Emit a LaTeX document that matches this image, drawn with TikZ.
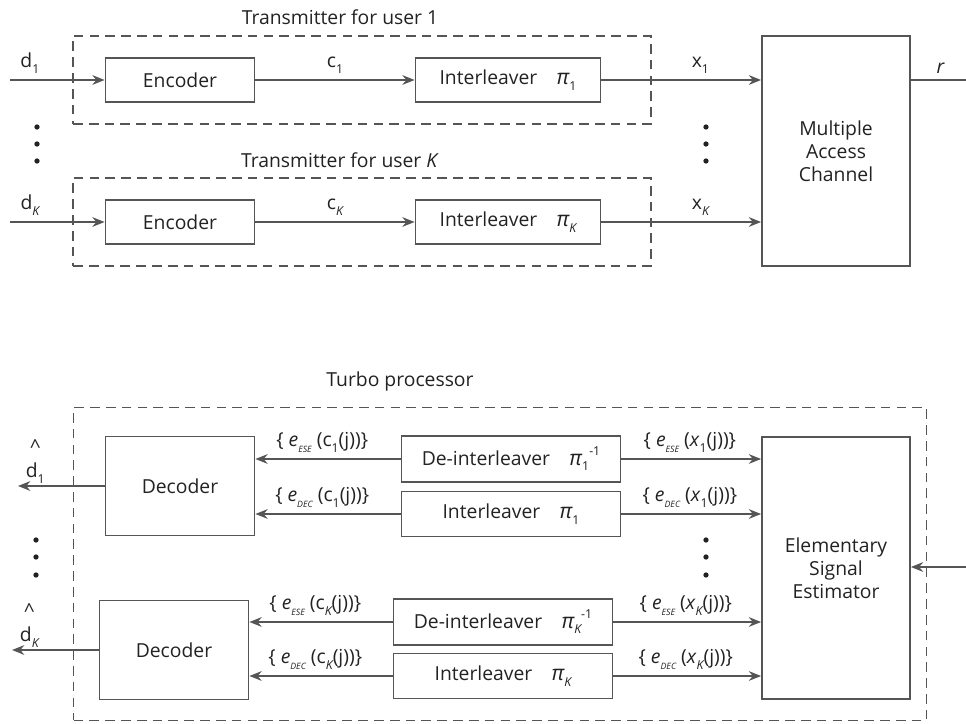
\documentclass[tikz,border=0pt]{standalone}
\usepackage{fontspec}
\setmainfont{Open Sans}
\usetikzlibrary{arrows.meta}
\definecolor{linegray}{HTML}{555555}
\definecolor{textgray}{HTML}{222222}
\newcommand{\lo}[1]{\raisebox{-0.55ex}{\scriptsize #1}}
\newcommand{\hi}[1]{\raisebox{0.9ex}{\scriptsize #1}}
\newcommand{\ppi}{{\large\itshape π}}
\newcommand{\ext}[3]{\{ \textit{e}\lo{\tiny\itshape #1}\ (#2\lo{#3}(j))\}}

\begin{document}
\begin{tikzpicture}[x=0.02cm, y=-0.02cm, font=\fontsize{11}{13}\selectfont, text=textgray,
  blockbox/.style={draw=linegray, line width=1pt, align=center, inner sep=0pt},
  groupbox/.style={draw=linegray, dash pattern=on 5.5pt off 3.5pt, line width=1pt, inner sep=0pt},
  flow/.style={draw=linegray, line width=1pt, -{Stealth[length=7pt,width=5.5pt]}},
  wire/.style={draw=linegray, line width=1pt}]
\useasboundingbox (0,0) rectangle (966,723);

% transmitters
\node[groupbox, minimum width=11.56cm, minimum height=1.76cm] (tx1) at (362,80) {};
\node (tx1title) at (340,17) {Transmitter for user 1};
\node[blockbox, minimum width=2.98cm, minimum height=0.88cm] (enc1) at (180,80) {Encoder};
\node[blockbox, minimum width=3.7cm, minimum height=0.88cm] (int1) at (508,80) {Interleaver\quad\ppi\lo{1}};

\node[groupbox, minimum width=11.56cm, minimum height=1.76cm] (txK) at (362,222) {};
\node (txKtitle) at (340,160) {Transmitter for user \textit{K}};
\node[blockbox, minimum width=2.98cm, minimum height=0.88cm] (encK) at (180,222) {Encoder};
\node[blockbox, minimum width=3.7cm, minimum height=0.88cm] (intK) at (508,222) {Interleaver\quad\ppi\lo{\itshape K}};

\node[blockbox, minimum width=2.96cm, minimum height=4.6cm] (mac) at (836,151) {Multiple\\Access\\Channel};

\coordinate (d1in) at (10,80);
\coordinate (dKin) at (10,222);
\coordinate (rout) at (966,80);

\draw[flow] (d1in) -- node[pos=0.21, above] {d\lo{1}} (enc1);
\draw[flow] (enc1) -- node[above] {c\lo{1}} (int1);
\draw[flow] (int1) -- node[pos=0.62, above] {x\lo{1}} (mac.west |- int1);
\draw[flow] (dKin) -- node[pos=0.21, above] {d\lo{\itshape K}} (encK);
\draw[flow] (encK) -- node[above] {c\lo{\itshape K}} (intK);
\draw[flow] (intK) -- node[pos=0.62, above] {x\lo{\itshape K}} (mac.west |- intK);
\draw[wire] (mac.east |- rout) -- node[pos=0.54, above] {\textit{r}} (rout);

\foreach \y in {127,144,161} {
  \fill[textgray] (37,\y) circle (1.5pt);
  \fill[textgray] (706,\y) circle (1.5pt);
}

% turbo receiver
\node[groupbox, minimum width=17.06cm, minimum height=6.26cm] (turbo) at (500,564) {};
\node (turbotitle) at (400,381) {Turbo processor};
\node[blockbox, minimum width=2.98cm, minimum height=1.98cm] (dec1) at (180,486) {Decoder};
\node[blockbox, minimum width=2.98cm, minimum height=1.98cm] (decK) at (174,650) {Decoder};
\node[blockbox, minimum width=4.38cm, minimum height=0.92cm] (deint1) at (511,459) {De-interleaver\quad\ppi\lo{1}\hi{-1}};
\node[blockbox, minimum width=4.38cm, minimum height=0.9cm] (intl1) at (511,514) {Interleaver\quad\ppi\lo{1}};
\node[blockbox, minimum width=4.38cm, minimum height=0.92cm] (deintK) at (503,622) {De-interleaver\quad\ppi\lo{\itshape K}\hi{-1}};
\node[blockbox, minimum width=4.38cm, minimum height=0.9cm] (intlK) at (503,676) {Interleaver\quad\ppi\lo{\itshape K}};
\node[blockbox, minimum width=2.96cm, minimum height=5.24cm] (ese) at (836,568) {Elementary\\Signal\\Estimator};

\coordinate (d1out) at (18,486);
\coordinate (dKout) at (12,650);
\coordinate (rin) at (966,567);

\draw[flow] (dec1) -- node[pos=0.8, above, align=center, inner sep=1pt] {\textasciicircum\\[1pt]d\lo{1}} (d1out);
\draw[flow] (decK) -- node[pos=0.8, above, align=center, inner sep=1pt] {\textasciicircum\\[1pt]d\lo{\itshape K}} (dKout);

\draw[flow] (deint1) -- node[pos=0.54, above] {\ext{ESE}{c}{1}} (dec1.east |- deint1);
\draw[flow] (intl1) -- node[pos=0.54, above] {\ext{DEC}{c}{1}} (dec1.east |- intl1);
\draw[flow] (deintK) -- node[pos=0.54, above] {\ext{ESE}{c}{\itshape K}} (decK.east |- deintK);
\draw[flow] (intlK) -- node[pos=0.54, above] {\ext{DEC}{c}{\itshape K}} (decK.east |- intlK);

\draw[flow] (deint1) -- node[pos=0.49, above] {\ext{ESE}{\textit{x}}{1}} (ese.west |- deint1);
\draw[flow] (intl1) -- node[pos=0.49, above] {\ext{DEC}{\textit{x}}{1}} (ese.west |- intl1);
\draw[flow] (deintK) -- node[pos=0.49, above] {\ext{ESE}{\textit{x}}{\itshape K}} (ese.west |- deintK);
\draw[flow] (intlK) -- node[pos=0.49, above] {\ext{DEC}{\textit{x}}{\itshape K}} (ese.west |- intlK);

\draw[flow] (rin) -- (ese.east |- rin);

\foreach \y in {540,557,575} {
  \fill[textgray] (36,\y) circle (1.5pt);
  \fill[textgray] (706,\y) circle (1.5pt);
}
\end{tikzpicture}
\end{document}
